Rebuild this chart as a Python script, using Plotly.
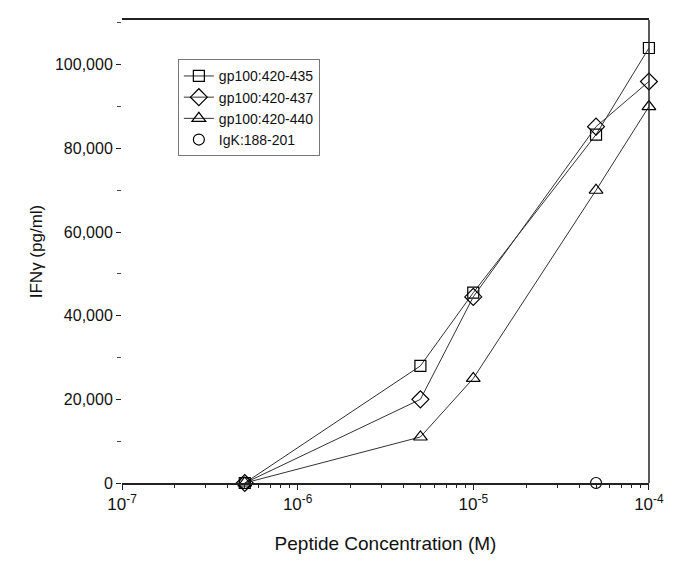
import plotly.graph_objects as go

# peptide concentrations (M)
conc = [5e-7, 5e-6, 1e-5, 5e-5, 1e-4]

ifn_435 = [0, 28000, 45500, 83300, 104000]
ifn_437 = [0, 20000, 44500, 85200, 96000]
ifn_440 = [0, 11000, 25000, 70000, 90000]

conc_igk = [5e-7, 5e-5]
ifn_igk = [0, 0]

x_ticks = [1e-7, 1e-6, 1e-5, 1e-4]
x_ticktext = ["10<sup>-7</sup>", "10<sup>-6</sup>", "10<sup>-5</sup>", "10<sup>-4</sup>"]
y_ticks = [0, 20000, 40000, 60000, 80000, 100000]

fnt = "Liberation Sans, Arial, sans-serif"
line_style = dict(color="#333", width=1)

fig = go.Figure()
fig.add_trace(go.Scatter(
    x=conc, y=ifn_435, name="gp100:420-435", mode="lines+markers",
    line=line_style, cliponaxis=False,
    marker=dict(symbol="square-open", size=11, color="black", line=dict(width=1.2))
))
fig.add_trace(go.Scatter(
    x=conc, y=ifn_437, name="gp100:420-437", mode="lines+markers",
    line=line_style, cliponaxis=False,
    marker=dict(symbol="diamond-open", size=13, color="black", line=dict(width=1.2))
))
fig.add_trace(go.Scatter(
    x=conc, y=ifn_440, name="gp100:420-440", mode="lines+markers",
    line=line_style, cliponaxis=False,
    marker=dict(symbol="triangle-up-open", size=12, color="black", line=dict(width=1.2))
))
fig.add_trace(go.Scatter(
    x=conc_igk, y=ifn_igk, name="IgK:188-201", mode="markers",
    marker=dict(symbol="circle-open", size=11, color="black", line=dict(width=1.2)),
    cliponaxis=False
))

# minor tick positions on the log axis
minor_x = [m * 10 ** e for e in (-7, -6, -5) for m in range(2, 10)]

# page body adds 8px around the figure, so the figure is 16px smaller
fig.update_layout(
    width=666, height=556,
    margin=dict(l=114, r=22, t=10, b=81),
    paper_bgcolor="white", plot_bgcolor="white",
    font=dict(family=fnt, size=15, color="#111"),
    showlegend=True,
    legend=dict(
        x=0.106, y=0.915, xanchor="left", yanchor="top",
        bgcolor="white", bordercolor="#777", borderwidth=1,
        font=dict(size=14), tracegroupgap=0, itemwidth=30,
    ),
    xaxis=dict(
        type="log", range=[-7, -3.9995],
        tickvals=x_ticks, ticktext=x_ticktext,
        ticks="outside", ticklen=5, tickcolor="#222",
        minor=dict(tickvals=minor_x, ticks="outside", ticklen=3, tickcolor="#222"),
        showline=True, linecolor="#222", linewidth=1.5, mirror=True,
        showgrid=False, zeroline=False,
        tickfont=dict(size=17),
        title=dict(text="Peptide Concentration (M)", font=dict(size=19), standoff=24),
    ),
    yaxis=dict(
        range=[0, 110700],
        tickvals=y_ticks, tickformat=",",
        ticks="outside", ticklen=5, tickcolor="#222",
        minor=dict(dtick=10000, ticks="outside", ticklen=4, tickcolor="#444"),
        showline=False, showgrid=False, zeroline=False,
        tickfont=dict(size=16),
        title=dict(text="IFNγ (pg/ml)", font=dict(size=17), standoff=8),
    ),
)

# right border of the frame
fig.add_shape(type="line", xref="paper", yref="paper", x0=1, x1=1, y0=0, y1=1,
              line=dict(color="#222", width=1.5))

fig.write_html("out.html")
